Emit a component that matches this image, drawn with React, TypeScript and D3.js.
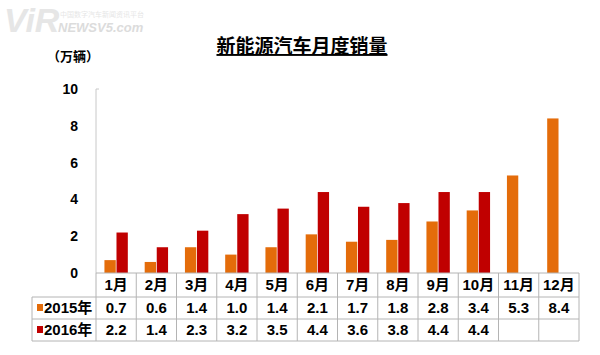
import React, { useEffect, useRef } from 'react';
import * as d3 from 'd3';

const months = ['1月', '2月', '3月', '4月', '5月', '6月', '7月', '8月', '9月', '10月', '11月', '12月'];
const sales2015 = [0.7, 0.6, 1.4, 1.0, 1.4, 2.1, 1.7, 1.8, 2.8, 3.4, 5.3, 8.4];
const sales2016: (number | null)[] = [2.2, 1.4, 2.3, 3.2, 3.5, 4.4, 3.6, 3.8, 4.4, 4.4, null, null];
const seriesNames = ['2015年', '2016年'];
const seriesColors = ['#E46C0A', '#C00000'];
const yTicks = [0, 2, 4, 6, 8, 10];
const title = '新能源汽车月度销量';
const unit = '（万辆）';

const FONT = "Arial, 'Liberation Sans', 'Noto Sans CJK SC', sans-serif";

const App = () => {
    const ref = useRef<SVGSVGElement>(null);

    useEffect(() => {
        const svg = d3.select(ref.current);
        svg.selectAll('*').remove();

        const left = 96, right = 579, top = 89, bottom = 273;
        const rowH = [273, 297, 319, 341];
        const tableLeft = 32;

        const x = d3.scaleBand().domain(months).range([left, right]).padding(0);
        const xs = d3.scaleBand().domain(seriesNames).range([0, x.bandwidth()])
            .paddingInner(0.06).paddingOuter(0.7);
        const y = d3.scaleLinear().domain([0, 10]).range([bottom, top]);

        // watermark
        svg.append('text').attr('x', 4).attr('y', 32).text('ViR')
            .style('font-family', FONT).style('font-size', '34px').style('font-style', 'italic')
            .style('font-weight', 'bold').style('fill', '#e6e6e6');
        svg.append('text').attr('x', 58).attr('y', 32).text('NEWSV5.com')
            .style('font-family', FONT).style('font-size', '13px').style('font-style', 'italic')
            .style('font-weight', 'bold').style('fill', '#dcdcdc');
        svg.append('text').attr('x', 60).attr('y', 17).text('中国数字汽车新闻资讯平台')
            .style('font-family', FONT).style('font-size', '7px').style('fill', '#e6e6e6');

        // title
        svg.append('text').attr('x', 302).attr('y', 53).attr('text-anchor', 'middle').text(title)
            .style('font-family', FONT).style('font-size', '19px').style('font-weight', 'bold')
            .style('text-decoration', 'underline').style('fill', '#000');

        svg.append('text').attr('x', 73).attr('y', 61).attr('text-anchor', 'middle').text(unit)
            .style('font-family', FONT).style('font-size', '13px').style('font-weight', 'bold');

        // y axis
        svg.append('line').attr('x1', left).attr('x2', left).attr('y1', top).attr('y2', bottom)
            .style('stroke', '#c8c8c8');
        svg.append('line').attr('x1', left).attr('x2', left + 3).attr('y1', top).attr('y2', top)
            .style('stroke', '#c8c8c8');
        svg.append('g').selectAll('text').data(yTicks).enter().append('text')
            .attr('x', 78).attr('y', d => y(d)).attr('dy', '0.36em').attr('text-anchor', 'end')
            .text(d => d)
            .style('font-family', FONT).style('font-size', '14px').style('font-weight', 'bold');

        // bars
        const allSeries = [sales2015, sales2016];
        allSeries.forEach((vals, si) => {
            svg.append('g').selectAll('rect')
                .data(months.map((m, i) => ({ m, v: vals[i] })).filter(d => d.v != null))
                .enter().append('rect')
                .attr('x', d => (x(d.m) as number) + (xs(seriesNames[si]) as number))
                .attr('width', xs.bandwidth())
                .attr('y', d => y(d.v as number))
                .attr('height', d => bottom - y(d.v as number))
                .style('fill', seriesColors[si]);
        });

        // table grid
        const grid = svg.append('g').style('stroke', '#b4b4b4').style('stroke-width', 1);
        grid.append('line').attr('x1', left).attr('x2', right).attr('y1', rowH[0]).attr('y2', rowH[0]);
        rowH.slice(1).forEach(h => {
            grid.append('line').attr('x1', tableLeft).attr('x2', right).attr('y1', h).attr('y2', h);
        });
        grid.append('line').attr('x1', tableLeft).attr('x2', tableLeft).attr('y1', rowH[1]).attr('y2', rowH[3]);
        months.forEach(m => {
            const xx = x(m) as number;
            grid.append('line').attr('x1', xx).attr('x2', xx).attr('y1', rowH[0]).attr('y2', rowH[3]);
        });
        grid.append('line').attr('x1', right).attr('x2', right).attr('y1', rowH[0]).attr('y2', rowH[3]);

        const cellText = (g: any) => g.style('font-family', FONT).style('font-size', '15px')
            .style('font-weight', 'bold').attr('text-anchor', 'middle').attr('dy', '0.36em');

        svg.append('g').selectAll('text').data(months).enter().append('text')
            .attr('x', d => (x(d) as number) + x.bandwidth() / 2)
            .attr('y', (rowH[0] + rowH[1]) / 2)
            .text(d => d)
            .call(cellText);

        allSeries.forEach((vals, si) => {
            const cy = (rowH[si + 1] + rowH[si + 2]) / 2;
            svg.append('rect').attr('x', 37).attr('y', cy - 4).attr('width', 6).attr('height', 7)
                .style('fill', seriesColors[si]);
            svg.append('text').attr('x', 44).attr('y', cy).attr('dy', '0.36em').text(seriesNames[si])
                .style('font-family', FONT).style('font-size', '15px').style('font-weight', 'bold');
            svg.append('g').selectAll('text')
                .data(months.map((m, i) => ({ m, v: vals[i] })).filter(d => d.v != null))
                .enter().append('text')
                .attr('x', d => (x(d.m) as number) + x.bandwidth() / 2)
                .attr('y', cy)
                .text(d => (d.v as number).toFixed(1))
                .call(cellText);
        });
    }, []);

    return (
        <svg ref={ref} width={600} height={355}
            style={{ position: 'absolute', left: 0, top: 0, background: '#fff' }}></svg>
    );
};

export default App;
